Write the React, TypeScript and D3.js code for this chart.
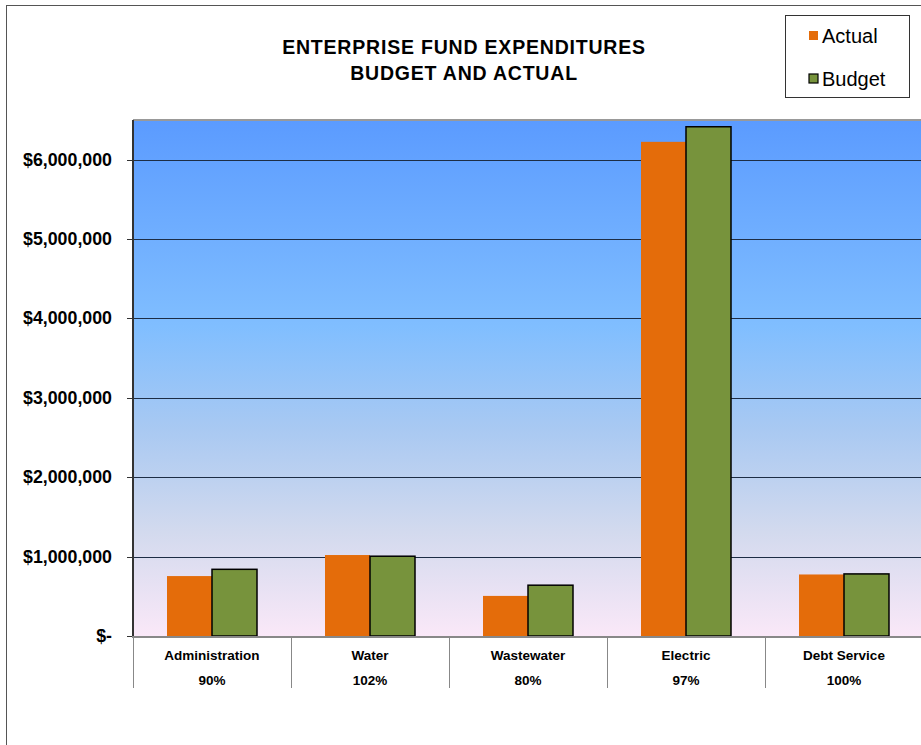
import React from "react";
import * as d3 from "d3";

const categories = ["Administration", "Water", "Wastewater", "Electric", "Debt Service"];
const percents = ["90%", "102%", "80%", "97%", "100%"];
const actual = [755000, 1020000, 505000, 6225000, 775000];
const budget = [840000, 1005000, 640000, 6415000, 782000];
const yTicks = [0, 1000000, 2000000, 3000000, 4000000, 5000000, 6000000];
const seriesNames = ["Actual", "Budget"];
const seriesColors = ["#E46C0A", "#77933C"];

const W = 921;
const H = 745;
const plotLeft = 133;
const plotRight = 923;
const plotTop = 120;
const plotBottom = 636;

export default function App() {
  const x = d3.scaleBand<string>().domain(categories).range([plotLeft, plotRight]).padding(0);
  const y = d3.scaleLinear().domain([0, 6500000]).range([plotBottom, plotTop]);
  const barW = 45;
  const fmt = (v: number) => (v === 0 ? "$-" : "$" + d3.format(",")(v));
  const font = "'Liberation Sans', Arial, sans-serif";

  return (
    <svg width={W} height={H} style={{ position: "absolute", left: 0, top: 0, background: "#fff" }}>
      <defs>
        <linearGradient id="bg" x1="0" y1="0" x2="0" y2="1">
          <stop offset="0" stopColor="#5B9BFF" />
          <stop offset="0.4" stopColor="#80BEFF" />
          <stop offset="0.6" stopColor="#A9C9F2" />
          <stop offset="0.8" stopColor="#D3DAEE" />
          <stop offset="1" stopColor="#FAE8F8" />
        </linearGradient>
      </defs>
      <rect x={6.5} y={5.5} width={W + 20} height={H + 20} fill="#fff" stroke="#555" strokeWidth={1} />
      <text x={464} y={54} textAnchor="middle" fontFamily={font} fontWeight="bold" fontSize={19.5} letterSpacing={0.8}>
        ENTERPRISE FUND EXPENDITURES
      </text>
      <text x={464} y={80} textAnchor="middle" fontFamily={font} fontWeight="bold" fontSize={19.5} letterSpacing={0.8}>
        BUDGET AND ACTUAL
      </text>
      {/* plot area */}
      <rect x={plotLeft} y={plotTop} width={plotRight - plotLeft} height={plotBottom - plotTop} fill="url(#bg)" />
      <line x1={plotLeft} x2={plotRight} y1={plotTop} y2={plotTop} stroke="#999" strokeWidth={2} />
      {yTicks.filter((t) => t > 0).map((t) => (
        <line key={t} x1={plotLeft} x2={plotRight} y1={Math.round(y(t)) + 0.5} y2={Math.round(y(t)) + 0.5} stroke="#1d2d45" strokeWidth={1} />
      ))}
      {yTicks.map((t) => (
        <g key={"t" + t}>
          <line x1={127} x2={plotLeft} y1={Math.round(y(t)) + 0.5} y2={Math.round(y(t)) + 0.5} stroke="#333" />
          <text x={112} y={y(t) + 6} textAnchor="end" fontFamily={font} fontWeight="bold" fontSize={17.8}>
            {fmt(t)}
          </text>
        </g>
      ))}
      {/* bars */}
      {categories.map((c, i) => {
        const cx = (x(c) as number) + x.bandwidth() / 2;
        return (
          <g key={c}>
            <rect x={cx - barW} y={y(actual[i])} width={barW} height={plotBottom - y(actual[i])} fill={seriesColors[0]} />
            <rect x={cx} y={y(budget[i])} width={barW} height={plotBottom - y(budget[i])} fill={seriesColors[1]} stroke="#000" strokeWidth={1.5} />
          </g>
        );
      })}
      <line x1={plotLeft} x2={plotLeft} y1={plotTop} y2={plotBottom} stroke="#333" strokeWidth={2} />
      <line x1={plotLeft - 1} x2={plotRight} y1={plotBottom + 1} y2={plotBottom + 1} stroke="#888" strokeWidth={2} />
      {/* category axis */}
      {categories.map((c, i) => {
        const x0 = x(c) as number;
        const cx = x0 + x.bandwidth() / 2;
        return (
          <g key={"c" + c}>
            <line x1={Math.round(x0) + 0.5} x2={Math.round(x0) + 0.5} y1={plotBottom} y2={688} stroke="#888" strokeWidth={1} />
            <text x={cx} y={660} textAnchor="middle" fontFamily={font} fontWeight="bold" fontSize={13.5}>
              {c}
            </text>
            <text x={cx} y={685} textAnchor="middle" fontFamily={font} fontWeight="bold" fontSize={13.5}>
              {percents[i]}
            </text>
          </g>
        );
      })}
      {/* legend */}
      <rect x={785.5} y={15.5} width={124} height={82} fill="#fff" stroke="#333" strokeWidth={1} />
      {seriesNames.map((s, i) => (
        <g key={s}>
          <rect x={809} y={31 + i * 43} width={9} height={9} fill={seriesColors[i]} stroke={i === 1 ? "#000" : "none"} strokeWidth={1.2} />
          <text x={822} y={43 + i * 43} fontFamily={font} fontSize={20}>
            {s}
          </text>
        </g>
      ))}
    </svg>
  );
}
